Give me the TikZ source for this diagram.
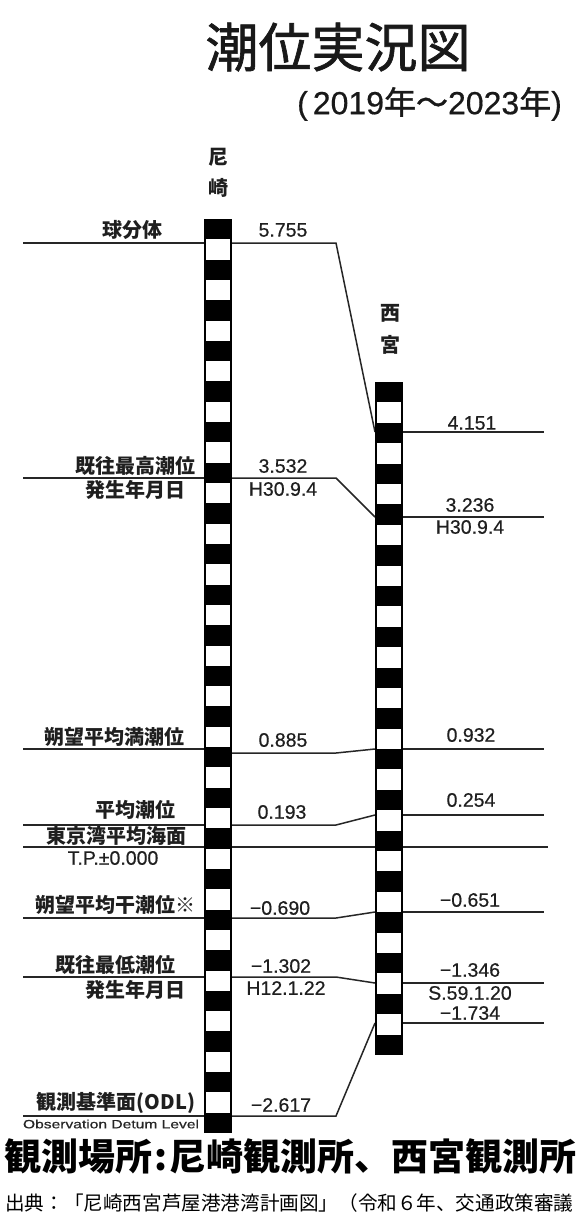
\documentclass[tikz,border=0pt]{standalone}
\usepackage{fontspec}
\newfontfamily\jp{Noto Sans CJK JP}
\newfontfamily\jpt{Noto Sans CJK JP}[FakeBold=1.2]
\newfontfamily\lib{Liberation Sans}[FakeBold=0.5]
\begin{document}
\begin{tikzpicture}[x=1pt,y=-1pt,
  lab/.style={font=\jp\bfseries\fontsize{20}{22}\selectfont, inner sep=0pt, text=black!88},
  num/.style={font=\lib\fontsize{19.5}{22}\selectfont, inner sep=0pt, text=black!88},
  lvl/.style={draw=black!85, line width=1.5pt},
]
\useasboundingbox (0,0) rectangle (576,1216);
\fill[white] (0,0) rectangle (576,1216);

% title
\node[font=\jpt\fontsize{53}{56}\selectfont, inner sep=0pt, text=black!90] (title) at (338,47) {潮位実況図};
\node[anchor=west, inner sep=0pt, font=\fontsize{32}{35}\selectfont, text=black!90] (period) at (297,104)
  {\lib (\kern5pt2019\jpt 年～\lib 2023\jpt 年\lib )};

% station names
\node[lab] (am1) at (218,157) {尼};
\node[lab] (am2) at (218,188) {崎};
\node[lab] (ni1) at (390,313) {西};
\node[lab] (ni2) at (390,345) {宮};

% level lines
\foreach \k/\yl/\ym/\yr in {a/243/243/432, b/478/478/517, c/749/753/749, d/825/825/815,
                           e/918/918/912, f/977/977/983, g/1116/1116/1023}{
  \coordinate (La\k) at (23,\yl);
  \coordinate (Lb\k) at (204,\yl);
  \coordinate (Ma\k) at (232,\ym);
  \coordinate (Mb\k) at (336,\ym);
  \coordinate (R\k) at (375,\yr);
  \coordinate (Ra\k) at (403,\yr);
  \coordinate (Rb\k) at (544,\yr);
  \draw[lvl] (La\k) -- (Lb\k);
  \draw[lvl] (Ma\k) -- (Mb\k) -- (R\k);
  \draw[lvl] (Ra\k) -- (Rb\k);
}
\coordinate (tpL) at (23,847);
\coordinate (tpR) at (548,847);
\draw[lvl] (tpL) -- (tpR);

% staffs
\fill[black] (204,219) rectangle (232,1133);
\foreach \i in {1,3,...,43}{
  \fill[white] (206,{219+\i*20.311}) rectangle (230,{219+(\i+1)*20.311});
}
\fill[black] (375,382) rectangle (403,1055);
\foreach \i in {1,3,...,31}{
  \fill[white] (377,{382+\i*20.394}) rectangle (401,{382+(\i+1)*20.394});
}

% left labels
\node[lab] (l1) at (132,230) {球分体};
\node[lab] (l2) at (135,466) {既往最高潮位};
\node[lab] (l3) at (135,490) {発生年月日};
\node[lab] (l4) at (114,737) {朔望平均満潮位};
\node[lab] (l5) at (135,810) {平均潮位};
\node[lab] (l6) at (116,836) {東京湾平均海面};
\node[num] (l7) at (113,858) {T.P.±0.000};
\node[lab] (l8) at (115,905) {朔望平均干潮位※};
\node[lab] (l9) at (115,965) {既往最低潮位};
\node[lab] (l10) at (135,990) {発生年月日};
\node[lab] (l11) at (116,1103) {観測基準面(ODL)};
\node[font=\lib\fontsize{12}{13}\selectfont, inner sep=0pt, text=black!85] (l12) at (111,1124)
  {\scalebox{1.3}[1]{Observation Detum Level}};

% Amagasaki values
\node[num] (a1) at (283,230) {5.755};
\node[num] (a2) at (283,466) {3.532};
\node[num] (a3) at (283,489) {H30.9.4};
\node[num] (a4) at (283,740) {0.885};
\node[num] (a5) at (282,812) {0.193};
\node[num] (a6) at (280,908) {−0.690};
\node[num] (a7) at (281,966) {−1.302};
\node[num] (a8) at (286,988) {H12.1.22};
\node[num] (a9) at (281,1105) {−2.617};

% Nishinomiya values
\node[num] (b1) at (472,423) {4.151};
\node[num] (b2) at (470,505) {3.236};
\node[num] (b3) at (470,527) {H30.9.4};
\node[num] (b4) at (471,735) {0.932};
\node[num] (b5) at (471,800) {0.254};
\node[num] (b6) at (470,900) {−0.651};
\node[num] (b7) at (470,970) {−1.346};
\node[num] (b8) at (470,993) {S.59.1.20};
\node[num] (b9) at (470,1013) {−1.734};

% bottom texts
\node[font=\jp\bfseries\fontsize{37}{40}\selectfont, anchor=west, inner sep=0pt] (place) at (4,1156)
  {観測場所\kern2pt:\kern2pt 尼崎観測所、西宮観測所};
\node[font=\jp\fontsize{19.6}{22}\selectfont, anchor=west, inner sep=0pt] (src) at (5,1203)
  {出典：「尼崎西宮芦屋港港湾計画図」（令和６年、交通政策審議};
\end{tikzpicture}
\end{document}
